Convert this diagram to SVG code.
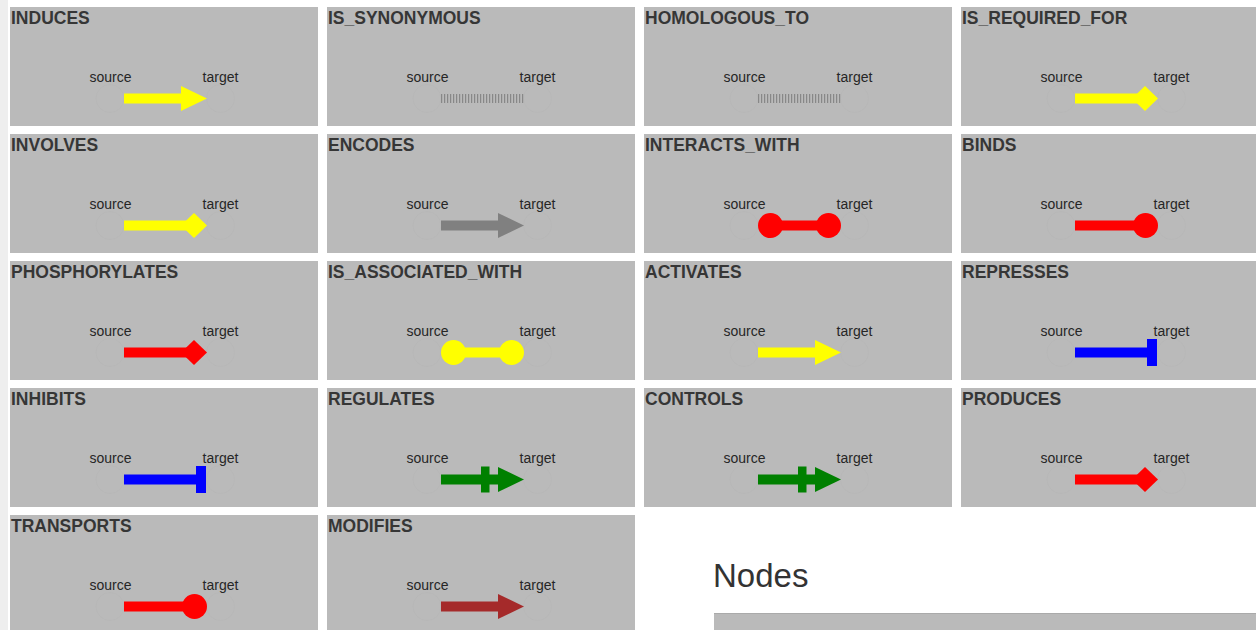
<svg xmlns="http://www.w3.org/2000/svg" xmlns:xlink="http://www.w3.org/1999/xlink" width="1256" height="630" viewBox="0 0 1256 630">
  <style>
    .tile { fill: #bababa; }
    .title { font-family: "Liberation Sans", Arial, sans-serif; font-weight: bold; font-size: 17.5px; fill: #363636; }
    .lbl { font-family: "Liberation Sans", Arial, sans-serif; font-size: 14px; fill: #262626; text-anchor: middle; }
    .ghost { fill: none; stroke: #b6b6b6; stroke-width: 1; stroke-opacity: 0.6; }
    .heading { font-family: "Liberation Sans", Arial, sans-serif; font-size: 33px; fill: #333; }
  </style>
  <defs>
    <!-- faint source/target node circles with their labels -->
    <g id="nodes-pair">
      <circle class="ghost" cx="100" cy="91.5" r="14"/>
      <circle class="ghost" cx="210.5" cy="91.5" r="14"/>
      <text class="lbl" x="100.5" y="75">source</text>
      <text class="lbl" x="210.5" y="75">target</text>
    </g>
    <!-- edge styles, drawn in tile-local coordinates -->
    <g id="e-arrow">
      <rect x="114" y="86.5" width="58" height="10"/>
      <polygon points="171,79 197,91.5 171,104"/>
    </g>
    <g id="e-diamond">
      <rect x="114" y="86.5" width="64" height="10"/>
      <polygon points="171,91.5 184,79 197,91.5 184,104"/>
    </g>
    <g id="e-dot">
      <rect x="114" y="86.5" width="70" height="10"/>
      <circle cx="184.5" cy="91.5" r="12.5"/>
    </g>
    <g id="e-dots">
      <rect x="126" y="86.5" width="58" height="10"/>
      <circle cx="126.5" cy="91.5" r="12.5"/>
      <circle cx="184.5" cy="91.5" r="12.5"/>
    </g>
    <g id="e-tee">
      <rect x="114" y="86.5" width="76" height="10"/>
      <rect x="186" y="78" width="10" height="27"/>
    </g>
    <g id="e-regulate">
      <rect x="114" y="86.5" width="58" height="10"/>
      <rect x="154" y="78.5" width="8.5" height="26"/>
      <polygon points="171,79 197,91.5 171,104"/>
    </g>
    <g id="e-hatch">
      <line x1="114" y1="91.5" x2="197" y2="91.5" stroke="#888888" stroke-width="9" stroke-dasharray="1.2 1.8"/>
    </g>
  </defs>

  <rect width="1256" height="630" fill="#ffffff"/>
  <rect x="0" y="0" width="8" height="630" fill="#eeeeee"/>

  <!-- relationship tiles -->
  <g id="node-induces" transform="translate(10,7)"><rect class="tile" width="308" height="119"/><text class="title" x="1" y="17">INDUCES</text><use xlink:href="#nodes-pair"/></g>
  <g id="node-is-synonymous" transform="translate(327,7)"><rect class="tile" width="308" height="119"/><text class="title" x="1" y="17">IS_SYNONYMOUS</text><use xlink:href="#nodes-pair"/></g>
  <g id="node-homologous-to" transform="translate(644,7)"><rect class="tile" width="308" height="119"/><text class="title" x="1" y="17">HOMOLOGOUS_TO</text><use xlink:href="#nodes-pair"/></g>
  <g id="node-is-required-for" transform="translate(961,7)"><rect class="tile" width="308" height="119"/><text class="title" x="1" y="17">IS_REQUIRED_FOR</text><use xlink:href="#nodes-pair"/></g>

  <g id="node-involves" transform="translate(10,134)"><rect class="tile" width="308" height="119"/><text class="title" x="1" y="17">INVOLVES</text><use xlink:href="#nodes-pair"/></g>
  <g id="node-encodes" transform="translate(327,134)"><rect class="tile" width="308" height="119"/><text class="title" x="1" y="17">ENCODES</text><use xlink:href="#nodes-pair"/></g>
  <g id="node-interacts-with" transform="translate(644,134)"><rect class="tile" width="308" height="119"/><text class="title" x="1" y="17">INTERACTS_WITH</text><use xlink:href="#nodes-pair"/></g>
  <g id="node-binds" transform="translate(961,134)"><rect class="tile" width="308" height="119"/><text class="title" x="1" y="17">BINDS</text><use xlink:href="#nodes-pair"/></g>

  <g id="node-phosphorylates" transform="translate(10,261)"><rect class="tile" width="308" height="119"/><text class="title" x="1" y="17">PHOSPHORYLATES</text><use xlink:href="#nodes-pair"/></g>
  <g id="node-is-associated-with" transform="translate(327,261)"><rect class="tile" width="308" height="119"/><text class="title" x="1" y="17">IS_ASSOCIATED_WITH</text><use xlink:href="#nodes-pair"/></g>
  <g id="node-activates" transform="translate(644,261)"><rect class="tile" width="308" height="119"/><text class="title" x="1" y="17">ACTIVATES</text><use xlink:href="#nodes-pair"/></g>
  <g id="node-represses" transform="translate(961,261)"><rect class="tile" width="308" height="119"/><text class="title" x="1" y="17">REPRESSES</text><use xlink:href="#nodes-pair"/></g>

  <g id="node-inhibits" transform="translate(10,388)"><rect class="tile" width="308" height="119"/><text class="title" x="1" y="17">INHIBITS</text><use xlink:href="#nodes-pair"/></g>
  <g id="node-regulates" transform="translate(327,388)"><rect class="tile" width="308" height="119"/><text class="title" x="1" y="17">REGULATES</text><use xlink:href="#nodes-pair"/></g>
  <g id="node-controls" transform="translate(644,388)"><rect class="tile" width="308" height="119"/><text class="title" x="1" y="17">CONTROLS</text><use xlink:href="#nodes-pair"/></g>
  <g id="node-produces" transform="translate(961,388)"><rect class="tile" width="308" height="119"/><text class="title" x="1" y="17">PRODUCES</text><use xlink:href="#nodes-pair"/></g>

  <g id="node-transports" transform="translate(10,515)"><rect class="tile" width="308" height="119"/><text class="title" x="1" y="17">TRANSPORTS</text><use xlink:href="#nodes-pair"/></g>
  <g id="node-modifies" transform="translate(327,515)"><rect class="tile" width="308" height="119"/><text class="title" x="1" y="17">MODIFIES</text><use xlink:href="#nodes-pair"/></g>

  <!-- sample edges, one per relationship -->
  <g id="connectors">
    <use xlink:href="#e-arrow" x="10" y="7" fill="#ffff00"/>
    <use xlink:href="#e-hatch" x="327" y="7"/>
    <use xlink:href="#e-hatch" x="644" y="7"/>
    <use xlink:href="#e-diamond" x="961" y="7" fill="#ffff00"/>

    <use xlink:href="#e-diamond" x="10" y="134" fill="#ffff00"/>
    <use xlink:href="#e-arrow" x="327" y="134" fill="#808080"/>
    <use xlink:href="#e-dots" x="644" y="134" fill="#ff0000"/>
    <use xlink:href="#e-dot" x="961" y="134" fill="#ff0000"/>

    <use xlink:href="#e-diamond" x="10" y="261" fill="#ff0000"/>
    <use xlink:href="#e-dots" x="327" y="261" fill="#ffff00"/>
    <use xlink:href="#e-arrow" x="644" y="261" fill="#ffff00"/>
    <use xlink:href="#e-tee" x="961" y="261" fill="#0000ff"/>

    <use xlink:href="#e-tee" x="10" y="388" fill="#0000ff"/>
    <use xlink:href="#e-regulate" x="327" y="388" fill="#008000"/>
    <use xlink:href="#e-regulate" x="644" y="388" fill="#008000"/>
    <use xlink:href="#e-diamond" x="961" y="388" fill="#ff0000"/>

    <use xlink:href="#e-dot" x="10" y="515" fill="#ff0000"/>
    <use xlink:href="#e-arrow" x="327" y="515" fill="#a52a2a"/>
  </g>

  <!-- next section -->
  <g id="nodes-section">
    <text class="heading" x="713" y="587">Nodes</text>
    <rect x="714" y="613" width="542" height="17" fill="#bababa"/>
    <line x1="714" y1="613.5" x2="1256" y2="613.5" stroke="#aaaaaa" stroke-width="1"/>
  </g>
</svg>
